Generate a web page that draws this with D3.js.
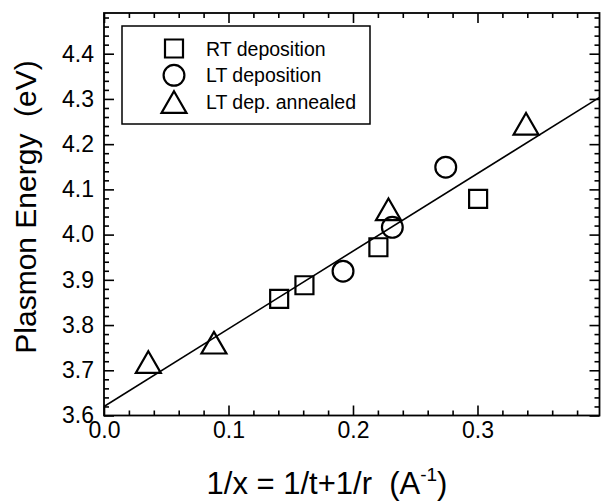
<!DOCTYPE html>
<html><head><meta charset="utf-8">
<script src="https://cdn.jsdelivr.net/npm/d3@7"></script>
<style>body{margin:0;background:#fff}svg{display:block}text{font-family:"Liberation Sans",Arial,sans-serif;fill:#000;white-space:pre}</style>
</head><body><svg id="c" width="601" height="501"></svg>
<script>
const rtX = [0.1407, 0.161, 0.2204, 0.3005];
const rtY = [3.858, 3.888, 3.972, 4.079];
const ltX = [0.192, 0.2316, 0.2745];
const ltY = [3.919, 4.016, 4.149];
const annX = [0.0356, 0.0883, 0.2285, 0.339];
const annY = [3.718, 3.761, 4.056, 4.245];
const fitIntercept = 3.620, fitSlope = 1.717;
const xTicks = [0.0, 0.1, 0.2, 0.3];
const yTicks = [3.6, 3.7, 3.8, 3.9, 4.0, 4.1, 4.2, 4.3, 4.4];
const legendLabels = ["RT deposition", "LT deposition", "LT dep. annealed"];

const svg = d3.select("#c");
const L = 104, R = 599.5, T = 13, B = 415.5;
const x = d3.scaleLinear().domain([0, 0.398]).range([L, R]);
const y = d3.scaleLinear().domain([3.6, 4.49]).range([B, T]);

const minorX = d3.range(0, 0.3981, 0.02), minorY = d3.range(3.6, 4.4901, 0.02);
const notMajor = (arr, maj) => arr.filter(v => !maj.some(t => Math.abs(t - v) < 1e-6));
const fmt = d => d3.format(".1f")(d);

function axis(gen, pos, vals, size, labels, pad){
  const g = svg.append("g").attr("transform", pos)
    .call(gen.tickValues(vals).tickFormat(labels ? fmt : "").tickSize(size).tickPadding(pad || 3));
  g.select(".domain").remove();
  g.selectAll("line").attr("stroke", "#000").attr("stroke-width", 1.6);
  g.attr("font-size", 23).attr("font-family", "Liberation Sans, Arial, sans-serif");
  g.selectAll("text").attr("fill", "#000");
  return g;
}
axis(d3.axisBottom(x), `translate(0,${B})`, xTicks, -10, true, 6.5);
axis(d3.axisBottom(x), `translate(0,${B})`, notMajor(minorX, xTicks), -5);
axis(d3.axisTop(x), `translate(0,${T})`, xTicks, -10);
axis(d3.axisTop(x), `translate(0,${T})`, notMajor(minorX, xTicks), -5);
axis(d3.axisLeft(y), `translate(${L},0)`, yTicks, -10, true, 10);
axis(d3.axisLeft(y), `translate(${L},0)`, notMajor(minorY, yTicks), -5);
axis(d3.axisRight(y), `translate(${R},0)`, yTicks, -10);
axis(d3.axisRight(y), `translate(${R},0)`, notMajor(minorY, yTicks), -5);

svg.append("rect").attr("x", L).attr("y", T).attr("width", R - L).attr("height", B - T)
  .attr("fill", "none").attr("stroke", "#000").attr("stroke-width", 1.8);

svg.append("clipPath").attr("id", "clip").append("rect")
  .attr("x", L).attr("y", T).attr("width", R - L).attr("height", B - T);

const xd = x.domain();
svg.append("line").attr("clip-path", "url(#clip)")
  .attr("x1", x(xd[0])).attr("y1", y(fitIntercept + fitSlope * xd[0]))
  .attr("x2", x(xd[1])).attr("y2", y(fitIntercept + fitSlope * xd[1]))
  .attr("stroke", "#000").attr("stroke-width", 1.6);

const sq = d3.symbol().type(d3.symbolSquare).size(324);
const ci = d3.symbol().type(d3.symbolCircle).size(340);
const tr = d3.symbol().type(d3.symbolTriangle).size(270);
const triShift = Math.sqrt(270 / (Math.sqrt(3) * 3)) / 2; // centre bbox on point
function pts(xs, ys, sym, dy){
  svg.append("g").selectAll("path").data(xs.map((v, i) => [v, ys[i]])).join("path")
    .attr("d", sym).attr("transform", d => `translate(${x(d[0])},${y(d[1]) + (dy || 0)})`)
    .attr("fill", "none").attr("stroke", "#000").attr("stroke-width", 2.2);
}
pts(rtX, rtY, sq);
pts(ltX, ltY, ci);
pts(annX, annY, tr, triShift);

// legend
const lg = svg.append("g");
lg.append("rect").attr("x", 122).attr("y", 26).attr("width", 248).attr("height", 98)
  .attr("fill", "#fff").attr("stroke", "#000").attr("stroke-width", 1.5);
const syms = [sq, ci, tr];
legendLabels.forEach((t, i) => {
  const cy = 48.5 + i * 26.8;
  lg.append("path").attr("d", syms[i]).attr("transform", `translate(174,${cy + (i == 2 ? triShift : 0)})`)
    .attr("fill", "none").attr("stroke", "#000").attr("stroke-width", 2.2);
  lg.append("text").attr("x", 206).attr("y", cy).attr("dy", "0.36em").attr("font-size", 19.5).text(t);
});

// axis titles
const xt = svg.append("text").attr("x", 327).attr("y", 494).attr("text-anchor", "middle").attr("font-size", 31);
xt.append("tspan").text("1/x = 1/t+1/r  (A");
xt.append("tspan").attr("font-size", 19).attr("dy", -13).text("-1");
xt.append("tspan").attr("dy", 13).text(")");
svg.append("text").attr("transform", "translate(36,207) rotate(-90)").attr("text-anchor", "middle")
  .attr("font-size", 30).text("Plasmon Energy  (eV)");
</script></body></html>
